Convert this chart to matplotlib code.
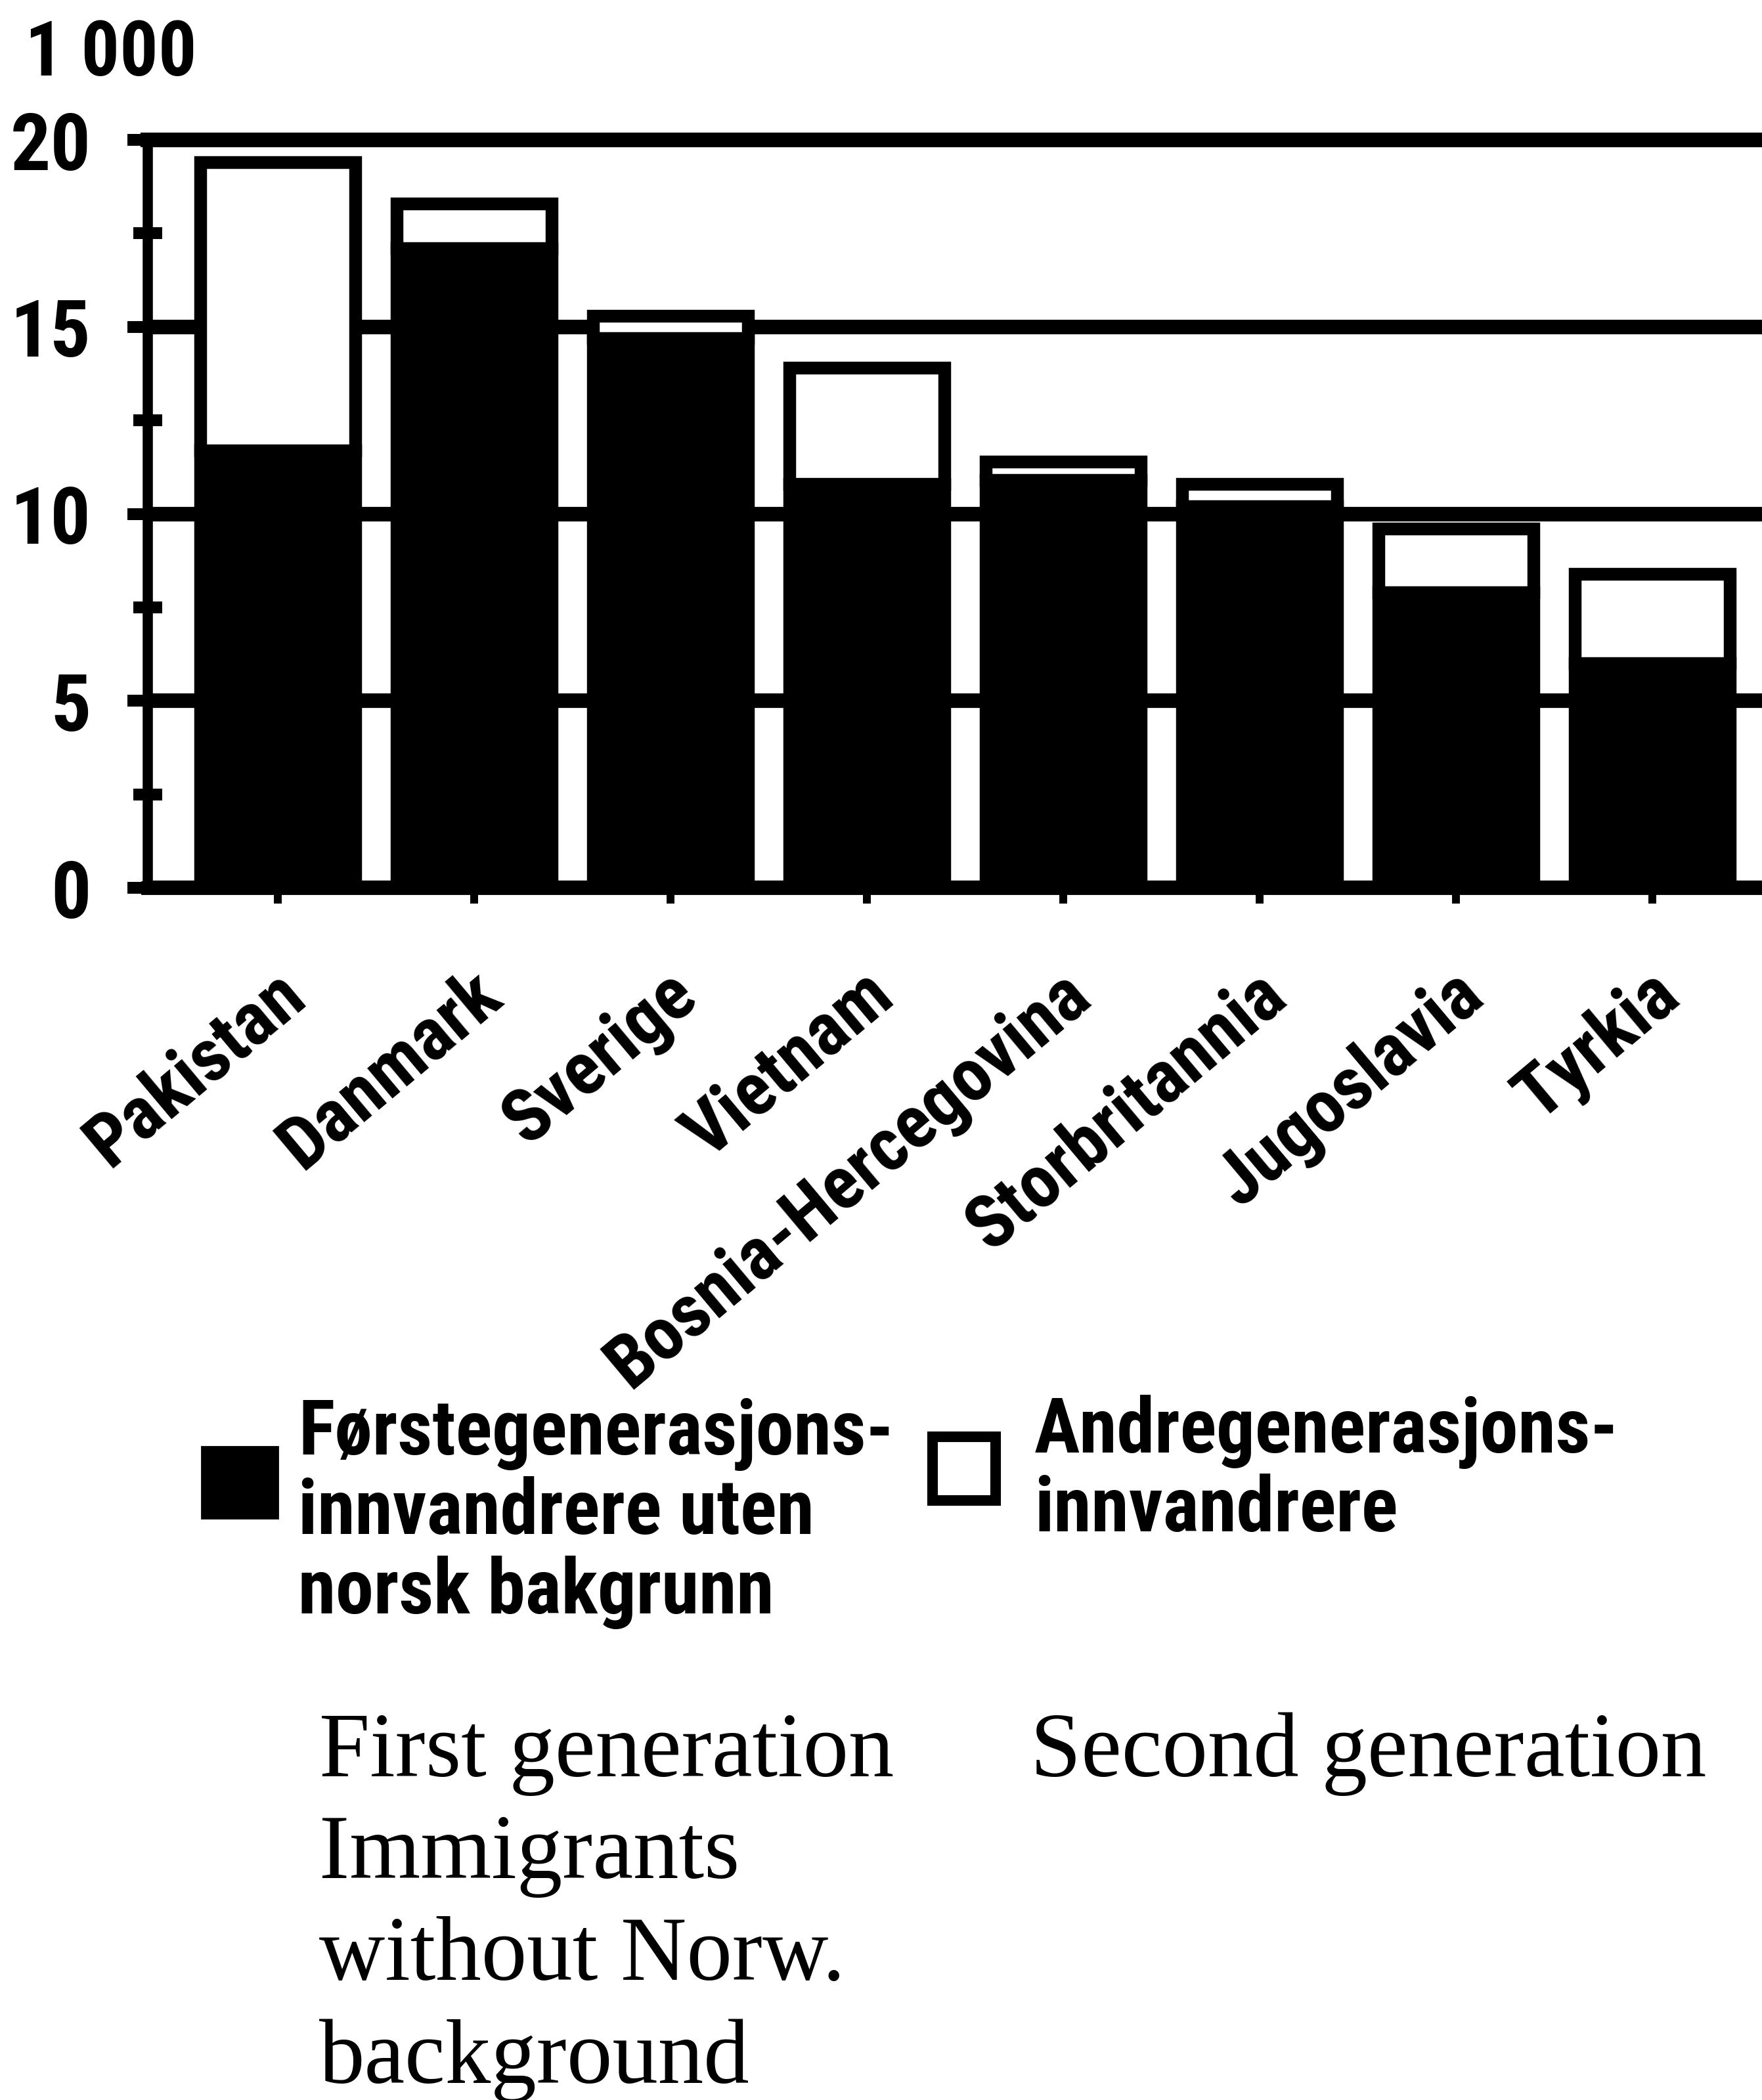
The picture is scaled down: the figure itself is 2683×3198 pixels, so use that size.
import numpy as np
import matplotlib
matplotlib.use("Agg")
from matplotlib import pyplot as plt
from matplotlib import font_manager
from matplotlib.patches import Rectangle
import matplotlib.transforms as mtransforms

# data (thousands of persons)
countries = ["Pakistan", "Danmark", "Sverige", "Vietnam", "Bosnia-Hercegovina",
             "Storbritannia", "Jugoslavia", "Tyrkia"]
first_gen = [11.7, 17.1, 14.7, 10.8, 10.9, 10.2, 7.9, 6.0]
second_gen = [7.7, 1.2, 0.6, 3.1, 0.5, 0.6, 1.7, 2.4]
yticks = [0, 5, 10, 15, 20]
unit_label = "1 000"

legend_first = ["Førstegenerasjons-", "innvandrere uten", "norsk bakgrunn"]
legend_second = ["Andregenerasjons-", "innvandrere"]
note_first = ["First generation", "Immigrants", "without Norw.", "background"]
note_second = ["Second generation"]

# a condensed sans with a bold face, if one is there
fonts = font_manager.fontManager.ttflist
bold_names = {f.name for f in fonts if isinstance(f.weight, int) and f.weight >= 600}
all_names = {f.name for f in fonts}
cands = ["Liberation Sans Narrow", "Arial Narrow", "Roboto Condensed", "PT Sans Narrow",
         "Archivo Narrow", "Open Sans Condensed"]
SANS, WEIGHT = "Liberation Sans", "normal"
for cand in cands:
    if cand in bold_names:
        SANS, WEIGHT = cand, "bold"
        break
else:
    for cand in cands:
        if cand in all_names:
            SANS = cand
            break
SERIF = "Liberation Serif"
plt.rcParams["font.family"] = [SANS, "DejaVu Sans"]
plt.rcParams["font.weight"] = WEIGHT
k = 0.95 if WEIGHT == "bold" else 1.0

W, H = 2683, 3198
DPI = 200
fig = plt.figure(figsize=(W / DPI, H / DPI), dpi=DPI)


def fx(px):
    return px / W


def fy(py):
    return 1 - py / H


# axes: left spine at x=225, y=0 at 1352, y=20 at 213, runs off the right edge
ax = fig.add_axes([fx(225), fy(1352), 1 - fx(225), (1352 - 213) / H])

x = np.arange(len(countries))
first = np.array(first_gen)
second = np.array(second_gen)
ax.bar(x, first, width=0.79, color="black", edgecolor="black", lw=7, zorder=3)
ax.bar(x, second, bottom=first, width=0.79, color="white", edgecolor="black",
       lw=7, zorder=3)

ax.set_xlim(-0.662, 7.559)
ax.set_ylim(0, 20)
ax.set_axisbelow(True)

ax.spines["right"].set_visible(False)
ax.spines["left"].set_linewidth(5.6)
ax.spines["bottom"].set_linewidth(7.5)
ax.spines["top"].set_linewidth(8)

ax.set_yticks(yticks)
ax.set_yticks([2.5, 7.5, 12.5, 17.5], minor=True)
ax.tick_params(axis="y", which="major", direction="out", length=11, width=6.5,
               pad=20, labelsize=46 * k)
ax.tick_params(axis="y", which="minor", direction="inout", length=16, width=6.5)
ax.yaxis.grid(True, which="major", color="black", lw=8)

ax.set_xticks(x)
ax.set_xticklabels(countries, rotation=40, ha="right", va="top",
                   rotation_mode="anchor", fontsize=43 * k)
ax.tick_params(axis="x", direction="out", length=8.6, width=4.3, pad=30)
shift = mtransforms.ScaledTranslation(-8 / DPI, 0, fig.dpi_scale_trans)
for lab in ax.get_xticklabels():
    lab.set_transform(lab.get_transform() + shift)

fig.text(fx(38), fy(83), unit_label, fontsize=44 * k, ha="left", va="center")

# legend swatches
fig.patches.append(Rectangle((fx(307), fy(2312)), (423 - 307) / W, (2312 - 2203) / H,
                             transform=fig.transFigure, facecolor="black",
                             edgecolor="black", lw=1))
fig.patches.append(Rectangle((fx(1420), fy(2285)), (1516 - 1420) / W, (2285 - 2188) / H,
                             transform=fig.transFigure, facecolor="white",
                             edgecolor="black", lw=5.8))

for line, base in zip(legend_first, [2215, 2336, 2457]):
    fig.text(fx(454), fy(base), line, fontsize=44 * k, ha="left", va="baseline")
for line, base in zip(legend_second, [2212, 2332]):
    fig.text(fx(1575), fy(base), line, fontsize=44 * k, ha="left", va="baseline")

for line, base in zip(note_first, [2705, 2860, 3015, 3172]):
    fig.text(fx(486), fy(base), line, fontsize=50, family=SERIF, weight="normal",
             ha="left", va="baseline")
for line, base in zip(note_second, [2705]):
    fig.text(fx(1569), fy(base), line, fontsize=50, family=SERIF, weight="normal",
             ha="left", va="baseline")

fig.savefig("out.png", dpi=DPI)
